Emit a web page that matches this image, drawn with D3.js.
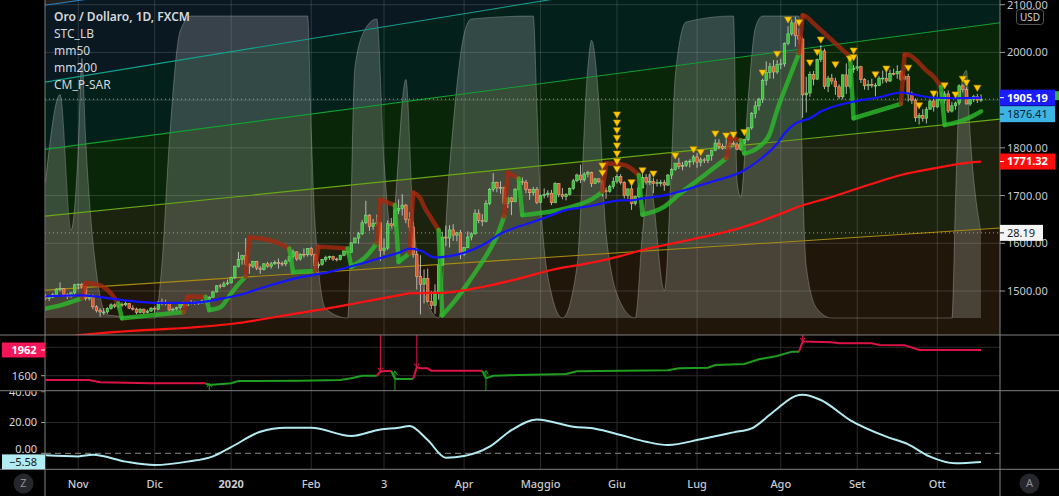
<!DOCTYPE html>
<html><head><meta charset="utf-8">
<script src="https://cdn.jsdelivr.net/npm/d3@7"></script>
<style>html,body{margin:0;padding:0;background:#000;overflow:hidden}svg{display:block}text{font-family:"Noto Sans",sans-serif}</style>
</head><body><svg id="c" width="1059" height="496"></svg>
<script>
// ---------------- DATA ----------------
// daily bars Oct 21 2019 .. Oct 19 2020 (bar index 0..257)
const open = [
1490,1484,1487,1492,1504,1505,1493,1488,1496,
1513,1514,1510,1484,1491,1467,1459,1456,1456,1463,1471,1468,1472,1471,1474,1464,1462,1455,1462,1455,1458,
1464,1462,1477,1474,1475,1460,1462,1465,1475,1470,1476,1476,1475,1475,1479,1478,1487,1498,1511,1510,1515,
1517,1528,1552,1566,1574,1556,1552,1562,1548,1545,1557,1552,1557,1560,1558,1557,1563,1572,1582,1567,1577,1576,
1589,1576,1553,1556,1566,1570,1572,1567,1566,1575,1584,1581,1601,1611,1620,1643,1659,1635,1642,1643,
1585,1590,1641,1637,1669,1673,1680,1650,1634,1577,1530,1514,1526,1478,1470,1498,1554,1613,1611,1628,1617,1622,
1577,1591,1613,1620,1663,1648,1646,1683,1713,1727,1716,1717,1683,1695,1687,1713,1730,1728,1713,1706,1713,
1686,1700,1702,1705,1685,1725,1702,1698,1702,1715,1731,1743,1733,1745,1748,1725,1735,1729,1710,1709,1719,
1730,1740,1727,1700,1714,1683,1698,1716,1738,1728,1730,1725,1727,1727,1722,1743,1755,1768,1761,1763,1771,1772,
1781,1770,1775,1774,1784,1795,1810,1803,1799,1802,1809,1808,1797,1810,1818,1842,1872,1888,1902,1941,1958,1970,1959,
1975,1976,2019,2039,2062,2035,2028,1911,1915,1954,1944,1985,2003,1929,1946,1940,1928,1907,1953,1929,1964,
1967,1970,1943,1930,1933,1931,1931,1946,1946,1940,1956,1955,1960,1944,1950,1912,1900,1863,1868,1862,1881,1898,
1886,1906,1900,1913,1877,1888,1894,1930,1922,1892,1902,1908,1900];
const close = [
1484,1487,1492,1504,1505,1493,1488,1496,1513,
1514,1510,1484,1491,1467,1459,1456,1456,1463,1471,1468,1472,1471,1474,1464,1462,1455,1462,1455,1458,1464,
1462,1477,1474,1475,1460,1462,1465,1475,1470,1476,1476,1475,1475,1479,1478,1487,1498,1511,1510,1515,1517,
1528,1552,1566,1574,1556,1552,1562,1548,1545,1557,1552,1557,1560,1558,1557,1563,1572,1582,1567,1577,1576,1589,
1576,1553,1556,1566,1570,1572,1567,1566,1575,1584,1581,1601,1611,1620,1643,1659,1635,1642,1643,1585,
1590,1641,1637,1669,1673,1680,1650,1634,1577,1530,1514,1526,1478,1470,1498,1554,1613,1611,1628,1617,1622,1577,
1591,1613,1620,1663,1648,1646,1683,1713,1727,1716,1717,1683,1695,1687,1713,1730,1728,1713,1706,1713,1686,
1700,1702,1705,1685,1725,1702,1698,1702,1715,1731,1743,1733,1745,1748,1725,1735,1729,1710,1709,1719,1730,
1740,1727,1700,1714,1683,1698,1716,1738,1728,1730,1725,1727,1727,1722,1743,1755,1768,1761,1763,1771,1772,1781,
1770,1775,1774,1784,1795,1810,1803,1799,1802,1809,1808,1797,1810,1818,1842,1872,1888,1902,1941,1958,1970,1959,1975,
1976,2019,2039,2062,2035,2028,1911,1915,1954,1944,1985,2003,1929,1946,1940,1928,1907,1953,1929,1964,1967,
1970,1943,1930,1933,1931,1931,1946,1946,1940,1956,1955,1960,1944,1950,1912,1900,1863,1868,1862,1881,1898,1886,
1906,1900,1913,1877,1888,1894,1930,1922,1892,1902,1908,1900,1902];
const high = [
1494,1490,1496,1506,1518,1506,1495,1498,1515,
1516,1517,1511,1494,1493,1470,1464,1464,1466,1474,1474,1476,1476,1478,1475,1470,1465,1464,1463,1461,1466,
1468,1479,1484,1482,1476,1465,1467,1476,1478,1479,1481,1479,1478,1482,1481,1489,1500,1512,1515,1520,1524,
1530,1553,1582,1576,1611,1558,1563,1563,1552,1558,1561,1561,1564,1568,1562,1566,1573,1587,1583,1579,1589,1590,
1592,1578,1561,1567,1574,1574,1574,1570,1576,1585,1585,1602,1612,1624,1649,1689,1661,1651,1660,1644,
1610,1648,1653,1673,1692,1703,1682,1665,1645,1590,1575,1545,1547,1500,1514,1568,1624,1637,1638,1640,1624,1628,
1592,1625,1623,1671,1671,1661,1690,1716,1747,1729,1730,1719,1698,1697,1716,1739,1738,1733,1714,1718,1718,
1702,1715,1711,1712,1728,1726,1716,1705,1717,1735,1746,1765,1749,1752,1750,1737,1737,1732,1717,1723,1738,
1745,1745,1730,1715,1723,1700,1723,1745,1745,1745,1737,1734,1733,1733,1745,1757,1768,1779,1770,1774,1776,1785,
1789,1780,1779,1786,1796,1818,1818,1809,1818,1814,1814,1812,1812,1819,1843,1875,1898,1905,1945,1981,1978,1984,1984,
1987,2021,2055,2069,2075,2050,2032,1949,1960,1961,1987,2015,2008,1951,1955,1947,1933,1954,1977,1967,1974,
1992,1972,1946,1942,1945,1936,1950,1962,1965,1964,1966,1973,1963,1954,1955,1918,1904,1873,1881,1886,1901,1903,
1917,1918,1919,1920,1896,1897,1933,1933,1927,1904,1911,1913,1912];
const low = [
1480,1479,1485,1490,1499,1488,1483,1486,1491,
1503,1505,1480,1480,1462,1455,1446,1450,1452,1461,1464,1464,1466,1468,1462,1459,1451,1453,1451,1453,1456,
1454,1460,1470,1470,1458,1457,1459,1461,1464,1469,1472,1471,1471,1474,1474,1476,1486,1497,1505,1508,1512,
1516,1525,1549,1555,1553,1536,1548,1544,1536,1543,1549,1547,1555,1547,1552,1552,1561,1567,1563,1564,1570,1572,
1573,1547,1548,1553,1561,1565,1563,1562,1564,1573,1576,1580,1600,1599,1617,1640,1626,1628,1636,1563,
1576,1586,1631,1633,1661,1658,1642,1625,1570,1503,1451,1474,1476,1462,1452,1482,1552,1594,1591,1605,1604,1567,
1574,1590,1606,1618,1642,1636,1644,1680,1708,1707,1704,1680,1674,1659,1686,1710,1722,1705,1691,1700,1682,
1684,1694,1696,1680,1684,1697,1692,1690,1700,1712,1728,1726,1729,1738,1718,1724,1726,1698,1693,1706,1714,
1725,1723,1694,1693,1670,1679,1695,1715,1723,1722,1705,1719,1719,1710,1720,1735,1752,1756,1753,1760,1759,1765,
1758,1761,1768,1768,1773,1793,1797,1796,1796,1797,1805,1795,1794,1807,1814,1838,1862,1878,1894,1931,1945,1945,1955,
1965,1970,2015,2035,2012,2018,1863,1874,1907,1931,1942,1980,1923,1917,1933,1911,1902,1902,1913,1924,1957,
1961,1936,1922,1921,1926,1908,1929,1935,1936,1938,1952,1945,1940,1941,1897,1892,1855,1849,1855,1851,1880,1876,
1883,1895,1893,1873,1874,1880,1890,1916,1891,1888,1896,1894,1896];

// x-axis month ticks (bar index of first bar of the month)
const tickLabels = ["Nov","Dic","2020","Feb","3","Apr","Maggio","Giu","Lug","Ago","Set","Ott"];
const tickBars   = [9,30,51,73,93,115,136,157,179,202,223,245];
const priceTicks = [1500,1600,1700,1800,1900,2000,2100];

// mm50 / mm200 (bar index, value)
const mm50Idx = [0,10,21,31,40,49,53,60,69,78,87,92,97,100,103,107,111,115,121,125,130,134,139,143,149,152,158,161,164,171,174,180,183,192,196,201,203,206,210,213,222,229,235,239,244,250,257];
const mm50Val = [1489,1491,1481,1475,1475,1485,1491,1508,1527,1540,1558,1569,1580,1589,1585,1570,1573,1580,1600,1620,1635,1645,1659,1670,1677,1682,1690,1690,1694,1702,1708,1722,1729,1753,1774,1809,1830,1851,1862,1876,1897,1906,1916,1911,1905,1904,1905.19];
const mm200Idx = [0,10,53,69,78,87,97,100,106,108,121,130,139,149,158,164,173,183,192,201,207,216,226,235,244,255,257];
const mm200Val = [1398,1408,1433,1453,1464,1477,1491,1495,1496,1496,1510,1526,1544,1558,1573,1586,1601,1617,1635,1659,1677,1697,1722,1743,1757,1770,1771.32];

// STC_LB oscillator (0..100)
const stcIdx = [0,4,7,9,10,11,14,17,30,32,34,37,40,72,73,74,77,83,85,88,91,93,95,99,101,105,108,111,115,117,134,135,136,139,142,146,149,150,152,154,158,162,164,166,167,170,172,173,176,189,190,191,193,195,197,207,208,209,212,216,249,250,251,253,254,257];
const stcVal = [45,74,29,56,86,60,15,1,0,18,58,95,100,100,62,32,3,0,83,96,99,52,29,79,33,5,0,50,94,99,100,70,39,8,0,17,83,92,72,28,5,0,28,48,39,9,52,80,98,100,45,40,72,96,100,100,45,17,3,0,0,39,72,82,61,28.19];

// CM_P-SAR segments: direction, [bar index, value]
const psarSegments = [
 ["up",[[0,1463],[5,1472],[10,1485]]],
 ["dn",[[11,1517],[15,1512],[18,1495],[20,1474]]],
 ["up",[[21,1443],[38,1456]]],
 ["dn",[[39,1488],[44,1488]]],
 ["up",[[45,1460],[48,1466],[51,1495],[53,1514],[55,1530]]],
 ["dn",[[56,1612],[60,1609],[64,1600],[67,1589]]],
 ["up",[[68,1540],[74,1542]]],
 ["dn",[[75,1593],[83,1589]]],
 ["up",[[84,1551],[88,1572],[91,1600]]],
 ["dn",[[92,1691],[96,1680]]],
 ["up",[[97,1561],[100,1579]]],
 ["dn",[[101,1706],[103,1694],[104,1677],[106,1652],[108,1628]]],
 ["up",[[109,1449],[112,1475],[116,1516],[119,1550],[122,1586],[124,1615],[126,1656]]],
 ["dn",[[127,1748],[130,1736]]],
 ["up",[[131,1659],[146,1680],[150,1692],[153,1708]]],
 ["dn",[[154,1767],[159,1764],[161,1756],[163,1743]]],
 ["up",[[164,1660],[170,1677],[174,1702],[180,1737],[187,1778]]],
 ["dn",[[188,1820],[191,1816]]],
 ["up",[[192,1788],[196,1802],[199,1830],[201,1879],[204,1940],[207,1998]]],
 ["dn",[[208,2078],[209,2075],[211,2061],[216,2026],[221,1991]]],
 ["up",[[222,1862],[235,1892]]],
 ["dn",[[236,1995],[237,1995],[239,1985],[242,1962],[244,1949],[246,1928]]],
 ["up",[[247,1848],[251,1855],[254,1864],[257,1876.41]]]
];

// signal triangles
const sigIdx   = [153,153,157,157,157,157,157,157,157,157,161,164,167,173,178,180,184,187,189,192,197,201,204,207,210,212,213,217,221,222,222,228,231,237,240,244,247,250,252,253,256];
const sigPrice = [1762,1747,1869,1852,1836,1820,1804,1787,1771,1755,1727,1752,1745,1783,1796,1790,1829,1825,1827,1832,1957,1996,2068,2062,1978,2000,2026,1974,1986,2003,1989,1953,1965,1967,1888,1913,1930,1911,1944,1936,1925];

// fan / channel lines: price at bar 0 and at bar 262
const fanStart = [2099,1938,1797,1657,1502];
const fanEnd   = [2384,2264,2062,1860,1632];

// Supertrend segments
const stSegments = [
 ["dn",[[0,1539],[12,1539],[15,1507],[29,1493],[44,1493]]],
 ["up",[[45,1469],[51,1493],[53,1525],[70,1530],[81,1539],[84,1563],[87,1600],[91,1600]]],
 ["dn",[[92,1656],[93,1666],[95,1666]]],
 ["up",[[96,1553],[101,1553]]],
 ["dn",[[102,1718],[103,1704],[105,1704],[106,1671],[120,1671]]],
 ["up",[[121,1563],[123,1600],[143,1624],[146,1662],[171,1676],[174,1704],[182,1713],[184,1751],[192,1766],[196,1831],[201,1878],[205,1939],[207,1939]]],
 ["dn",[[208,2080],[216,2071],[218,2057],[227,2057],[229,2034],[236,2030],[240,1962],[257,1962]]]
];
const stTicks = [1600,2000];

// TRIX
const trixIdx = [0,9,13,22,30,39,46,51,59,66,73,84,92,97,100,105,110,115,122,128,135,145,151,158,165,171,180,189,194,200,207,208,213,221,231,237,243,250,257];
const trixVal = [-1.3,-2,-1,-5.4,-7.6,-5.4,-2,4,14,16.6,16.6,11.2,15.5,16.6,17.7,8.6,-2.9,-1.8,4.3,15,22,17.3,16,11.9,7.5,5.4,9.1,13.6,16.2,27,37.9,38,34.6,21.6,10.8,5.8,-2.2,-6.5,-5.58];
const trixTicks = [0,20,40];

const legendTitle = "Oro / Dollaro, 1D, FXCM";
const legendItems = ["STC_LB","mm50","mm200","CM_P-SAR"];

// ---------------- SCALES ----------------
const PL=45, PR=1000, MB=335, SB=390.7, TB=469.3;
const x = d3.scaleLinear().domain([0,257]).range([45.5,981]);
const yP = d3.scaleLinear().domain([1500,2100]).range([291,4.7]);
const yStc = d3.scaleLinear().domain([0,100]).range([318,16]);
const ySt = d3.scaleLinear().domain([1600,2000]).range([375.7,347.3]);
const yTr = d3.scaleLinear().domain([0,20]).range([453.3,422.5]);
const fmt2 = d3.format(".2f");

const svg = d3.select("#c");
const defs = svg.append("defs");
defs.append("clipPath").attr("id","cm").append("rect").attr("x",PL).attr("y",0).attr("width",PR-PL).attr("height",MB);
defs.append("clipPath").attr("id","cs").append("rect").attr("x",PL).attr("y",MB).attr("width",PR-PL).attr("height",SB-MB);
defs.append("clipPath").attr("id","ct").append("rect").attr("x",PL).attr("y",SB).attr("width",PR-PL).attr("height",TB-SB);
defs.append("clipPath").attr("id","clt").append("rect").attr("x",0).attr("y",SB+0.5).attr("width",PL).attr("height",TB-SB);

svg.append("rect").attr("width",1059).attr("height",496).attr("fill","#000");

// ---------- MAIN PANE ----------
const main = svg.append("g").attr("clip-path","url(#cm)");
const bandColors = ["#231f1b","#0a1822","#03201b","#0a2609","#1b230f","#20170a"];
const fanY = (k,px)=>{const i=x.invert(px);return yP(fanStart[k]+(fanEnd[k]-fanStart[k])*i/262);};
main.append("rect").attr("x",PL).attr("y",0).attr("width",PR-PL).attr("height",MB).attr("fill",bandColors[0]);
fanStart.forEach((_,k)=>{
  main.append("path").attr("d",`M${PL},${fanY(k,PL)}L${PR},${fanY(k,PR)}L${PR},${MB}L${PL},${MB}Z`).attr("fill",bandColors[k+1]);
});

// STC area
const stcPts = stcIdx.map((d,k)=>[d,stcVal[k]]);
main.append("path").datum(stcPts)
  .attr("d",d3.area().x(d=>x(d[0])).y0(yStc(0)).y1(d=>yStc(d[1])).curve(d3.curveMonotoneX))
  .attr("fill","rgba(228,228,228,0.21)");
main.append("path").datum(stcPts)
  .attr("d",d3.line().x(d=>x(d[0])).y(d=>yStc(d[1])).curve(d3.curveMonotoneX))
  .attr("fill","none").attr("stroke","rgba(225,225,225,0.28)").attr("stroke-width",1);

// grid
priceTicks.forEach(p=>main.append("line").attr("x1",PL).attr("x2",PR).attr("y1",yP(p)).attr("y2",yP(p)).attr("stroke","rgba(190,190,190,0.2)"));
tickBars.forEach(b=>main.append("line").attr("x1",x(b)).attr("x2",x(b)).attr("y1",0).attr("y2",MB).attr("stroke","rgba(190,190,190,0.2)"));

// fan lines
const fanColors = ["#2f80bd","#14a08e","#12a030","#6aa814","#a88a12"];
fanStart.forEach((_,k)=>main.append("line").attr("x1",PL).attr("y1",fanY(k,PL)).attr("x2",PR).attr("y2",fanY(k,PR)).attr("stroke",fanColors[k]).attr("stroke-width",1.1));

// dotted price lines
const lastClose = close[close.length-1];
main.append("line").attr("x1",PL).attr("x2",PR).attr("y1",yP(lastClose)).attr("y2",yP(lastClose)).attr("stroke","#6fbf6f").attr("stroke-dasharray","1,3").attr("stroke-width",1);
main.append("line").attr("x1",PL).attr("x2",PR).attr("y1",yStc(stcVal[stcVal.length-1])).attr("y2",yStc(stcVal[stcVal.length-1])).attr("stroke","#9a9ea6").attr("stroke-dasharray","1,3");

// candles
const cg = main.append("g");
close.forEach((c,i)=>{
  const o=open[i], h=Math.max(high[i],o,c), l=Math.min(low[i],o,c), upC=c>=o;
  cg.append("line").attr("x1",x(i)).attr("x2",x(i)).attr("y1",yP(h)).attr("y2",yP(l)).attr("stroke","#cfcfcf").attr("stroke-opacity",0.85).attr("stroke-width",1);
  const yt=yP(Math.max(o,c)), yb=yP(Math.min(o,c));
  cg.append("rect").attr("x",x(i)-1.3).attr("width",2.6).attr("y",yt).attr("height",Math.max(yb-yt,0.8))
    .attr("fill",upC?"#36c436":"#e2552c").attr("stroke",upC?"#86dc86":"#eeaa7c").attr("stroke-width",0.6);
});

// P-SAR
const psarColor = {up:"#2cb82c",dn:"#a8280e"};
const psg = main.append("g");
let prev=null;
psarSegments.forEach(([dir,pts])=>{
  const col=psarColor[dir], op=dir==="up"?0.82:0.78;
  if(prev) psg.append("line").attr("x1",x(prev[0])).attr("y1",yP(prev[1])).attr("x2",x(pts[0][0])).attr("y2",yP(pts[0][1]))
     .attr("stroke",col).attr("stroke-width",4.5).attr("stroke-opacity",op).attr("stroke-linecap","round");
  psg.append("path").datum(pts).attr("d",d3.line().x(d=>x(d[0])).y(d=>yP(d[1])).curve(d3.curveMonotoneX))
     .attr("fill","none").attr("stroke",col).attr("stroke-width",4.5).attr("stroke-opacity",op).attr("stroke-linejoin","round").attr("stroke-linecap","round");
  prev=pts[pts.length-1];
});

// moving averages
const maLine = d3.line().x(d=>x(d[0])).y(d=>yP(d[1])).curve(d3.curveMonotoneX);
main.append("path").datum(mm200Idx.map((d,k)=>[d,mm200Val[k]])).attr("d",maLine).attr("fill","none").attr("stroke","#ff1212").attr("stroke-width",2.2);
main.append("path").datum(mm50Idx.map((d,k)=>[d,mm50Val[k]])).attr("d",maLine).attr("fill","none").attr("stroke","#1414ff").attr("stroke-width",2.2);

// triangles
sigIdx.forEach((b,k)=>{
  main.append("path").attr("transform",`translate(${x(b)},${yP(sigPrice[k])})`).attr("d","M-3.6,-3L3.6,-3L0,3.2Z")
    .attr("fill","#ffcc00").attr("stroke","#c88a00").attr("stroke-width",0.6);
});

// legend
const lg = svg.append("g").attr("fill","#d6d8de").attr("font-size","12px");
lg.append("text").attr("x",54).attr("y",20.5).attr("font-weight",600).text(legendTitle);
legendItems.forEach((t,k)=>lg.append("text").attr("x",54).attr("y",37.7+k*17).text(t));

// ---------- SUPERTREND PANE ----------
const sg = svg.append("g").attr("clip-path","url(#cs)");
stTicks.forEach(v=>sg.append("line").attr("x1",PL).attr("x2",PR).attr("y1",ySt(v)).attr("y2",ySt(v)).attr("stroke","#2a2a2a"));
tickBars.forEach(b=>sg.append("line").attr("x1",x(b)).attr("x2",x(b)).attr("y1",MB).attr("y2",SB).attr("stroke","#2a2a2a"));
const stColor={up:"#1f9e1f",dn:"#dc1446"};
let sprev=null;
const stLine=d3.line().x(d=>x(d[0])).y(d=>ySt(d[1]));
stSegments.forEach(([dir,pts])=>{
  const col=stColor[dir];
  if(sprev){
    sg.append("line").attr("x1",x(sprev[0])).attr("y1",ySt(sprev[1])).attr("x2",x(pts[0][0])).attr("y2",ySt(pts[0][1])).attr("stroke",col).attr("stroke-width",2);
    const mx=x(pts[0][0]);
    if(dir==="dn"){
      const yy=ySt(pts[0][1]);
      sg.append("line").attr("x1",mx).attr("x2",mx).attr("y1",MB).attr("y2",yy).attr("stroke",col).attr("stroke-width",1);
      sg.append("path").attr("d",`M${mx-2.5},${yy-4}L${mx},${yy}L${mx+2.5},${yy-4}`).attr("fill","none").attr("stroke",col).attr("stroke-width",1);
    } else {
      const yy=ySt(sprev[1]);
      sg.append("line").attr("x1",mx).attr("x2",mx).attr("y1",yy).attr("y2",SB).attr("stroke",col).attr("stroke-width",1);
      sg.append("path").attr("d",`M${mx-2.5},${yy+4}L${mx},${yy}L${mx+2.5},${yy+4}`).attr("fill","none").attr("stroke",col).attr("stroke-width",1);
    }
  }
  sg.append("path").datum(pts).attr("d",stLine).attr("fill","none").attr("stroke",col).attr("stroke-width",2);
  sprev=pts[pts.length-1];
});

// ---------- TRIX PANE ----------
const tg = svg.append("g").attr("clip-path","url(#ct)");
tickBars.forEach(b=>tg.append("line").attr("x1",x(b)).attr("x2",x(b)).attr("y1",SB).attr("y2",TB).attr("stroke","#2a2a2a"));
tg.append("line").attr("x1",PL).attr("x2",PR).attr("y1",yTr(20)).attr("y2",yTr(20)).attr("stroke","#2a2a2a");
tg.append("line").attr("x1",PL).attr("x2",PR).attr("y1",yTr(0)).attr("y2",yTr(0)).attr("stroke","#8a8a8a").attr("stroke-dasharray","6,4");
tg.append("path").datum(trixIdx.map((d,k)=>[d,trixVal[k]]))
  .attr("d",d3.line().x(d=>x(d[0])).y(d=>yTr(d[1])).curve(d3.curveMonotoneX))
  .attr("fill","none").attr("stroke","#b2ebf2").attr("stroke-width",2);

// ---------- SEPARATORS ----------
const sep="#808080";
[MB,SB,TB].forEach(y=>svg.append("line").attr("x1",0).attr("x2",1059).attr("y1",y).attr("y2",y).attr("stroke",sep));
[PL,PR].forEach(xx=>svg.append("line").attr("x1",xx).attr("x2",xx).attr("y1",0).attr("y2",496).attr("stroke",sep));

// ---------- RIGHT AXIS ----------
const ra = svg.append("g").attr("font-size","11px");
const mm50Last=mm50Val[mm50Val.length-1], psarLast=psarSegments[psarSegments.length-1][1].slice(-1)[0][1];
const mm200Last=mm200Val[mm200Val.length-1], stcLast=stcVal[stcVal.length-1];
let yA=yP(mm50Last), yB=Math.max(yP(psarLast), yA+16.5);
const tagYs=[yA,yB,yP(mm200Last)];
priceTicks.forEach(p=>{
  ra.append("line").attr("x1",PR).attr("x2",PR+5).attr("y1",yP(p)).attr("y2",yP(p)).attr("stroke","#9a9a9a");
  if(tagYs.some(t=>Math.abs(t-yP(p))<12)) return; // hidden behind a value tag
  ra.append("text").attr("x",PR+7).attr("y",yP(p)).attr("dy","0.36em").attr("fill","#c9cbd1").text(fmt2(p));
});
// USD box
ra.append("rect").attr("x",1016.5).attr("y",9.5).attr("width",27).attr("height",15).attr("rx",3).attr("fill","#000").attr("stroke","#555");
ra.append("text").attr("x",1030).attr("y",17).attr("dy","0.36em").attr("text-anchor","middle").attr("font-size","10px").attr("fill","#d6d8de").text("USD");

// price tags
function tag(yc,w,bg,fg,txt,bold){
  ra.append("rect").attr("x",PR).attr("y",yc-8).attr("width",w).attr("height",16).attr("fill",bg);
  ra.append("line").attr("x1",PR).attr("x2",PR+4).attr("y1",yc).attr("y2",yc).attr("stroke",fg);
  ra.append("text").attr("x",PR+7).attr("y",yc).attr("dy","0.36em").attr("fill",fg).attr("font-weight",bold?700:400).text(txt);
}
ra.append("rect").attr("x",PR).attr("y",yP(lastClose)-8).attr("width",59).attr("height",9).attr("fill","#3fae49");
tag(yB,55,"#3db4e6","#0b1e33",fmt2(psarLast),false);
tag(yA,55,"#1b1bff","#ffffff",fmt2(mm50Last),true);
tag(yP(mm200Last),55,"#ff0d0d","#ffffff",fmt2(mm200Last),true);
tag(yStc(stcLast),43,"#f4f4f4","#131722",fmt2(stcLast),false);

// ---------- LEFT AXES (lower panes) ----------
const la = svg.append("g").attr("font-size","11px");
const stLast = stSegments[stSegments.length-1][1].slice(-1)[0][1];
stTicks.forEach(v=>{
  la.append("line").attr("x1",PL-4).attr("x2",PL).attr("y1",ySt(v)).attr("y2",ySt(v)).attr("stroke","#9a9a9a");
  if(Math.abs(ySt(v)-ySt(stLast))<10) return; // hidden behind the value tag
  la.append("text").attr("x",37).attr("y",ySt(v)).attr("dy","0.36em").attr("text-anchor","end").attr("fill","#d6d8de").text(v);
});
la.append("rect").attr("x",2).attr("y",ySt(stLast)-7.5).attr("width",43).attr("height",15).attr("fill","#f7155a");
la.append("line").attr("x1",PL-4).attr("x2",PL).attr("y1",ySt(stLast)).attr("y2",ySt(stLast)).attr("stroke","#fff");
la.append("text").attr("x",24).attr("y",ySt(stLast)).attr("dy","0.36em").attr("text-anchor","middle").attr("fill","#fff").attr("font-weight",700).text(stLast);

const lt = svg.append("g").attr("font-size","11px").attr("clip-path","url(#clt)");
const trLast = trixVal[trixVal.length-1];
trixTicks.forEach(v=>{
  lt.append("line").attr("x1",PL-4).attr("x2",PL).attr("y1",yTr(v)).attr("y2",yTr(v)).attr("stroke","#9a9a9a");
  const yy = v===0 ? Math.min(yTr(v), yTr(trLast)-12.5) : yTr(v);
  lt.append("text").attr("x",37).attr("y",yy).attr("dy","0.36em").attr("text-anchor","end").attr("fill","#d6d8de").text(fmt2(v));
});
lt.append("rect").attr("x",2).attr("y",yTr(trLast)-7.5).attr("width",43).attr("height",15).attr("fill","#b2ebf2");
lt.append("text").attr("x",37).attr("y",yTr(trLast)).attr("dy","0.36em").attr("text-anchor","end").attr("fill","#131722").text(fmt2(trLast));

// ---------- TIME AXIS ----------
const ta = svg.append("g").attr("font-size","11px").attr("fill","#c9cbd1");
tickLabels.forEach((t,k)=>ta.append("text").attr("x",x(tickBars[k])).attr("y",487.5).attr("text-anchor","middle").attr("font-weight",t==="2020"?700:500).text(t));

// corner buttons
[[23.5,483.5,"Z"],[1029.5,483.5,"A"]].forEach(([cx,cy,t])=>{
  svg.append("circle").attr("cx",cx).attr("cy",cy).attr("r",10).attr("fill","#26272c");
  svg.append("text").attr("x",cx).attr("y",cy).attr("dy","0.36em").attr("text-anchor","middle").attr("font-size","11px").attr("fill","#8d9099").text(t);
});
</script></body></html>
